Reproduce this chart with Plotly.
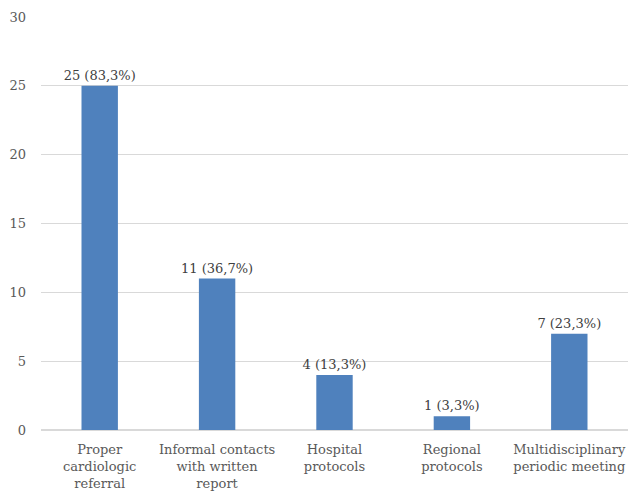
import plotly.graph_objects as go

categories = ["Proper<br>cardiologic<br>referral", "Informal contacts<br>with written<br>report",
              "Hospital<br>protocols", "Regional<br>protocols", "Multidisciplinary<br>periodic meeting"]
counts = [25, 11, 4, 1, 7]
labels = ["25 (83,3%)", "11 (36,7%)", "4 (13,3%)", "1 (3,3%)", "7 (23,3%)"]

font = "DejaVu Serif"
fig = go.Figure(go.Bar(
    x=categories, y=counts, text=labels, textposition="outside", constraintext="none",
    textfont=dict(family=font, size=13, color="#404040"),
    marker=dict(color="#4F81BD", line=dict(width=0)), width=0.31, cliponaxis=False))
fig.update_layout(
    width=630, height=495, margin=dict(l=41, r=2, t=17, b=65),
    plot_bgcolor="white", paper_bgcolor="white", showlegend=False,
    font=dict(family=font, size=13, color="#595959"),
    yaxis=dict(range=[0, 30], dtick=5, showgrid=True, gridcolor="#D9D9D9", gridwidth=1,
               zeroline=True, zerolinecolor="#D9D9D9", ticks="", ticklabelstandoff=14,
               tickfont=dict(family=font, size=13, color="#595959")),
    xaxis=dict(showgrid=False, ticks="", showline=False, ticklabelstandoff=10,
               tickfont=dict(family=font, size=13, color="#595959")),
)
fig.write_html("out.html")
